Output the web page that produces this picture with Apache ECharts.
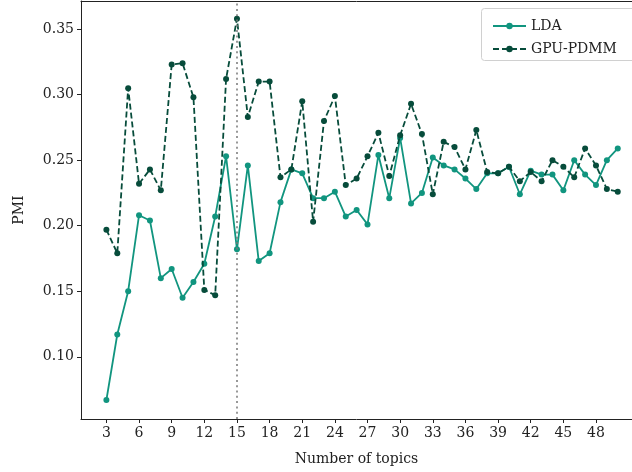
<!DOCTYPE html>
<html>
<head>
<meta charset="utf-8">
<script src="https://cdn.jsdelivr.net/npm/echarts@6/dist/echarts.min.js"></script>
<style>
  html, body { margin: 0; padding: 0; background: #fff; }
  #chart { width: 632px; height: 472px; }
</style>
</head>
<body>
<div id="chart"></div>
<script>
// Number of topics on the x axis
const topics = [3,4,5,6,7,8,9,10,11,12,13,14,15,16,17,18,19,20,21,22,23,24,25,26,
  27,28,29,30,31,32,33,34,35,36,37,38,39,40,41,42,43,44,45,46,47,48,49,50];

// PMI scores per model
const ldaPMI = [0.067,0.117,0.150,0.208,0.204,0.160,0.167,0.145,0.157,0.171,0.207,0.253,
  0.182,0.246,0.173,0.179,0.218,0.243,0.240,0.221,0.221,0.226,0.207,0.212,
  0.201,0.254,0.221,0.267,0.217,0.225,0.252,0.246,0.243,0.236,0.228,0.240,
  0.240,0.245,0.224,0.242,0.239,0.239,0.227,0.250,0.239,0.231,0.250,0.259];
const gpuPdmmPMI = [0.197,0.179,0.305,0.232,0.243,0.227,0.323,0.324,0.298,0.151,0.147,0.312,
  0.358,0.283,0.310,0.310,0.237,0.243,0.295,0.203,0.280,0.299,0.231,0.236,
  0.253,0.271,0.238,0.269,0.293,0.270,0.224,0.264,0.260,0.243,0.273,0.241,
  0.240,0.245,0.234,0.241,0.234,0.250,0.245,0.237,0.259,0.246,0.228,0.226];

// Tick labels
const xTicks = [3,6,9,12,15,18,21,24,27,30,33,36,39,42,45,48];
const yTicks = [0.10,0.15,0.20,0.25,0.30,0.35];

// Highlighted topic count
const markedTopic = 15;

const FONT = '"DejaVu Serif", serif';
const LDA_COLOR = '#11957f';
const GPU_COLOR = '#074c3b';
const INK = '#222';

const chart = echarts.init(document.getElementById('chart'), null, { renderer: 'canvas' });

const pairs = (ys) => topics.map((t, i) => [t, ys[i]]);

chart.setOption({
  animation: false,
  backgroundColor: '#fff',
  grid: { left: 81, top: 1, right: 0, bottom: 53 },
  xAxis: [
    {
      type: 'value',
      min: 0.665, max: 51.31,
      name: 'Number of topics',
      nameLocation: 'middle',
      nameGap: 33,
      nameTextStyle: { fontFamily: FONT, fontSize: 14, color: INK },
      axisLine: { show: true, onZero: false, lineStyle: { color: INK, width: 1 } },
      axisTick: { show: true, length: 4, lineStyle: { color: INK }, customValues: xTicks },
      axisLabel: { fontFamily: FONT, fontSize: 14, color: INK, margin: 7, customValues: xTicks },
      splitLine: { show: false }
    },
    {
      // top frame line only
      type: 'value', position: 'top',
      min: 0.665, max: 51.31,
      axisLine: { show: true, onZero: false, lineStyle: { color: INK, width: 1 } },
      axisTick: { show: false }, axisLabel: { show: false }, splitLine: { show: false }
    }
  ],
  yAxis: {
    type: 'value',
    min: 0.0525, max: 0.3715,
    name: 'PMI',
    nameLocation: 'middle',
    nameGap: 55,
    nameTextStyle: { fontFamily: FONT, fontSize: 14, color: INK },
    axisLine: { show: true, onZero: false, lineStyle: { color: INK, width: 1 } },
    axisTick: { show: true, length: 4, lineStyle: { color: INK }, customValues: yTicks },
    axisLabel: {
      fontFamily: FONT, fontSize: 14, color: INK, margin: 7,
      customValues: yTicks,
      formatter: (v) => v.toFixed(2)
    },
    splitLine: { show: false }
  },
  legend: {
    orient: 'vertical',
    left: 487, top: 14,
    itemWidth: 33, itemHeight: 8, itemGap: 9,
    textStyle: { fontFamily: FONT, fontSize: 14, color: INK },
    data: ['LDA', 'GPU-PDMM']
  },
  graphic: [{
    type: 'rect',
    shape: { x: 481.5, y: 8.5, width: 160, height: 52, r: 3 },
    style: { fill: 'rgba(255,255,255,0.8)', stroke: '#d0d0d0', lineWidth: 1 },
    z: 0
  }],
  series: [
    {
      name: 'LDA',
      type: 'line',
      data: pairs(ldaPMI),
      symbol: 'circle', symbolSize: 6,
      itemStyle: { color: LDA_COLOR },
      lineStyle: { color: LDA_COLOR, width: 1.8 },
      z: 3,
      markLine: {
        silent: true, symbol: 'none',
        label: { show: false },
        lineStyle: { color: '#777', type: [2, 3.3], width: 1.5 },
        data: [{ xAxis: markedTopic }]
      }
    },
    {
      name: 'GPU-PDMM',
      type: 'line',
      data: pairs(gpuPdmmPMI),
      symbol: 'circle', symbolSize: 6,
      itemStyle: { color: GPU_COLOR },
      lineStyle: { color: GPU_COLOR, width: 1.8, type: [6, 3] },
      z: 4
    }
  ]
});
</script>
</body>
</html>
